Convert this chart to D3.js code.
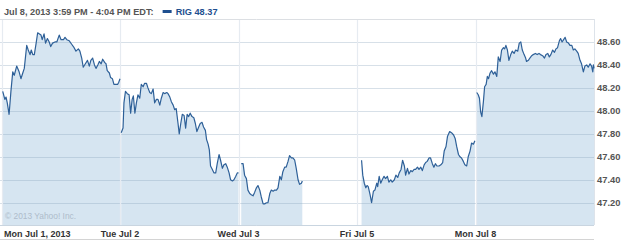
<!DOCTYPE html>
<html><head><meta charset="utf-8">
<script src="https://cdn.jsdelivr.net/npm/d3@7"></script>
<style>html,body{margin:0;padding:0;background:#fff;overflow:hidden}</style>
</head><body><svg id="c" width="625" height="241"></svg>
<script>
const dayLabels = ["Mon Jul 1, 2013","Tue Jul 2","Wed Jul 3","Fri Jul 5","Mon Jul 8"];
// [minutes since 9:30 open, price]
const jul1 = [[4,48.17],[11,48.10],[15,48.12],[19,48.07],[25,47.97],[31,48.17],[37,48.34],[42,48.31],[50,48.39],[58,48.34],[64,48.28],[70,48.33],[75,48.37],[83,48.57],[88,48.53],[94,48.49],[98,48.53],[103,48.49],[108,48.49],[114,48.59],[119,48.68],[125,48.67],[130,48.66],[134,48.62],[140,48.67],[145,48.59],[151,48.63],[157,48.60],[162,48.56],[168,48.59],[176,48.60],[182,48.60],[190,48.66],[196,48.62],[204,48.62],[209,48.64],[215,48.62],[223,48.61],[231,48.58],[239,48.55],[245,48.52],[253,48.54],[258,48.52],[264,48.46],[269,48.38],[276,48.41],[283,48.44],[289,48.39],[294,48.44],[300,48.46],[306,48.40],[311,48.37],[317,48.40],[322,48.43],[328,48.41],[333,48.45],[340,48.42],[344,48.41],[348,48.35],[355,48.33],[359,48.29],[365,48.28],[370,48.23],[377,48.23],[382,48.23],[386,48.25],[390,48.28]];
const jul2 = [[4,47.81],[10,47.85],[13,48.07],[18,48.17],[24,48.15],[30,48.14],[35,47.98],[40,48.10],[44,48.13],[49,47.98],[54,48.07],[59,48.14],[65,48.11],[70,48.23],[76,48.21],[81,48.24],[87,48.24],[92,48.20],[98,48.16],[103,48.15],[109,48.19],[114,48.07],[120,48.10],[125,48.10],[131,48.05],[136,48.11],[142,48.16],[147,48.15],[154,48.16],[158,48.15],[164,48.12],[169,48.08],[175,48.05],[180,48.01],[185,48.02],[191,47.89],[195,47.80],[200,47.89],[205,47.97],[211,47.96],[216,47.85],[221,47.97],[226,47.95],[231,47.98],[237,47.95],[243,47.94],[248,47.89],[253,47.82],[259,47.86],[264,47.89],[270,47.90],[275,47.86],[281,47.83],[285,47.75],[290,47.71],[294,47.66],[298,47.52],[304,47.49],[309,47.46],[315,47.46],[320,47.54],[326,47.62],[331,47.57],[337,47.50],[342,47.53],[348,47.54],[353,47.51],[359,47.46],[364,47.40],[370,47.39],[375,47.40],[381,47.43],[386,47.46],[390,47.46]];
const jul3 = [[9,47.54],[15,47.54],[20,47.44],[26,47.41],[31,47.31],[37,47.28],[42,47.27],[48,47.26],[53,47.29],[59,47.33],[64,47.35],[70,47.31],[75,47.25],[81,47.19],[86,47.19],[92,47.20],[97,47.20],[103,47.28],[108,47.31],[114,47.30],[119,47.31],[125,47.31],[130,47.33],[136,47.43],[141,47.40],[146,47.47],[152,47.51],[157,47.51],[163,47.56],[168,47.61],[174,47.59],[179,47.59],[185,47.57],[190,47.50],[196,47.40],[201,47.36],[207,47.37],[210,47.39]];
const jul5 = [[15,47.57],[19,47.44],[24,47.37],[29,47.33],[33,47.35],[37,47.34],[43,47.27],[48,47.20],[54,47.30],[59,47.31],[65,47.37],[68,47.34],[73,47.43],[78,47.37],[83,47.40],[89,47.43],[94,47.41],[100,47.43],[105,47.38],[111,47.40],[116,47.38],[123,47.40],[128,47.44],[134,47.42],[139,47.46],[145,47.49],[150,47.57],[156,47.52],[160,47.44],[166,47.50],[171,47.45],[177,47.48],[182,47.47],[188,47.49],[193,47.49],[199,47.51],[204,47.49],[210,47.51],[215,47.48],[221,47.53],[226,47.55],[231,47.56],[237,47.59],[242,47.59],[248,47.54],[253,47.51],[258,47.54],[263,47.52],[270,47.52],[276,47.53],[282,47.55],[287,47.65],[293,47.69],[298,47.78],[305,47.82],[311,47.81],[318,47.79],[323,47.76],[328,47.69],[334,47.62],[339,47.60],[344,47.59],[350,47.56],[355,47.53],[361,47.52],[366,47.60],[372,47.65],[377,47.72],[383,47.71],[388,47.74]];
const jul8 = [[4,48.16],[9,48.14],[13,48.11],[17,47.99],[21,47.95],[26,48.08],[30,48.21],[35,48.23],[39,48.30],[43,48.28],[48,48.33],[53,48.35],[59,48.32],[64,48.34],[70,48.30],[75,48.47],[81,48.43],[86,48.53],[92,48.55],[96,48.54],[100,48.57],[105,48.53],[110,48.44],[116,48.49],[121,48.52],[127,48.50],[132,48.53],[139,48.52],[144,48.59],[149,48.60],[154,48.53],[160,48.49],[165,48.46],[168,48.43],[174,48.44],[179,48.46],[185,48.48],[190,48.49],[197,48.50],[203,48.49],[209,48.50],[214,48.49],[221,48.48],[227,48.46],[232,48.49],[238,48.50],[243,48.47],[248,48.49],[254,48.53],[260,48.51],[265,48.54],[270,48.55],[276,48.61],[280,48.63],[285,48.60],[290,48.62],[295,48.64],[300,48.60],[306,48.59],[311,48.57],[317,48.57],[322,48.53],[327,48.54],[333,48.52],[338,48.50],[344,48.44],[349,48.41],[355,48.34],[360,48.39],[366,48.40],[371,48.38],[377,48.41],[382,48.39],[386,48.34],[388,48.40],[390,48.37]];
const sessions = [jul1, jul2, jul3, jul5, jul8];
const yTicks = [47.2, 47.4, 47.6, 47.8, 48.0, 48.2, 48.4, 48.6];
const headerText = "Jul 8, 2013 3:59 PM - 4:04 PM EDT:";
const symbolText = "RIG 48.37";
const copyright = "\u00A9 2013 Yahoo! Inc.";
const sessionMinutes = 390;

const svg = d3.select("#c");
const font = "'Liberation Sans', Arial, sans-serif";
const x = d3.scaleLinear().domain([0, sessionMinutes * dayLabels.length]).range([1.5, 594]);
const y = d3.scaleLinear().domain([47.0, 48.8]).range([225.7, 19]);
const px = (d, i) => x(i * sessionMinutes + d[0]);

// areas
const area = d3.area().x(d => d.x).y0(y(47.0)).y1(d => d.y);
const line = d3.line().x(d => d.x).y(d => d.y);
const series = sessions.map((s, i) => s.map(d => ({x: px(d, i), y: y(d[1])})));
svg.append("g").selectAll("path").data(series).join("path")
  .attr("d", area).attr("fill", "#d6e5f1");

// horizontal grid
svg.append("g").selectAll("line").data(yTicks).join("line")
  .attr("x1", 0).attr("x2", x.range()[1])
  .attr("y1", d => Math.round(y(d)) + 0.5).attr("y2", d => Math.round(y(d)) + 0.5)
  .attr("stroke", "rgba(140,165,190,0.35)").attr("stroke-width", 1);
// vertical grid
svg.append("g").selectAll("line").data(d3.range(dayLabels.length)).join("line")
  .attr("x1", i => Math.round(x(i * sessionMinutes)) + 0.5).attr("x2", i => Math.round(x(i * sessionMinutes)) + 0.5)
  .attr("y1", y.range()[1]).attr("y2", 225)
  .attr("stroke", "#e6ebf1").attr("stroke-width", 1.2);

// borders
svg.append("line").attr("x1", 0).attr("x2", 594).attr("y1", 19.5).attr("y2", 19.5).attr("stroke", "#dcdfe3");
svg.append("line").attr("x1", 594.5).attr("x2", 594.5).attr("y1", 19).attr("y2", 225).attr("stroke", "#dde3ea");
svg.append("line").attr("x1", 0).attr("x2", 594).attr("y1", 225.5).attr("y2", 225.5).attr("stroke", "#c9d5e0");
svg.append("line").attr("x1", 0).attr("x2", 594).attr("y1", 239.5).attr("y2", 239.5).attr("stroke", "#d4d4d4");

// lines
svg.append("g").selectAll("path").data(series).join("path")
  .attr("d", line).attr("fill", "none").attr("stroke", "#2e6098").attr("stroke-width", 1.2)
  .attr("stroke-linejoin", "round");

// y labels
svg.append("g").selectAll("text").data(yTicks).join("text")
  .attr("x", 597).attr("y", d => y(d) + 3.3)
  .attr("font-family", font).attr("font-weight", "bold").attr("font-size", "9.4px")
  .attr("fill", "#555").text(d => d.toFixed(2));

// x labels
svg.append("g").selectAll("text").data(dayLabels).join("text")
  .attr("x", (d, i) => i === 0 ? x(0) + 2.5 : x(i * sessionMinutes))
  .attr("y", 236.5)
  .attr("text-anchor", (d, i) => i === 0 ? "start" : "middle")
  .attr("font-family", font).attr("font-weight", "bold").attr("font-size", "9px")
  .attr("fill", "#333").text(d => d);

// copyright
svg.append("text").attr("x", 5).attr("y", 219).attr("font-family", font)
  .attr("font-size", "8.4px").attr("fill", "#aebccb").text(copyright);

// header
const h = svg.append("text").attr("x", 4).attr("y", 14.5).attr("font-family", font)
  .attr("font-weight", "bold").attr("font-size", "9.2px").attr("fill", "#555").text(headerText);
const hw = h.node().getComputedTextLength();
svg.append("rect").attr("x", 4 + hw + 9).attr("y", 10).attr("width", 9).attr("height", 3).attr("fill", "#1e4f8f");
svg.append("text").attr("x", 4 + hw + 22).attr("y", 14.5).attr("font-family", font)
  .attr("font-weight", "bold").attr("font-size", "9.2px").attr("fill", "#1e4f8f").text(symbolText);
</script></body></html>
